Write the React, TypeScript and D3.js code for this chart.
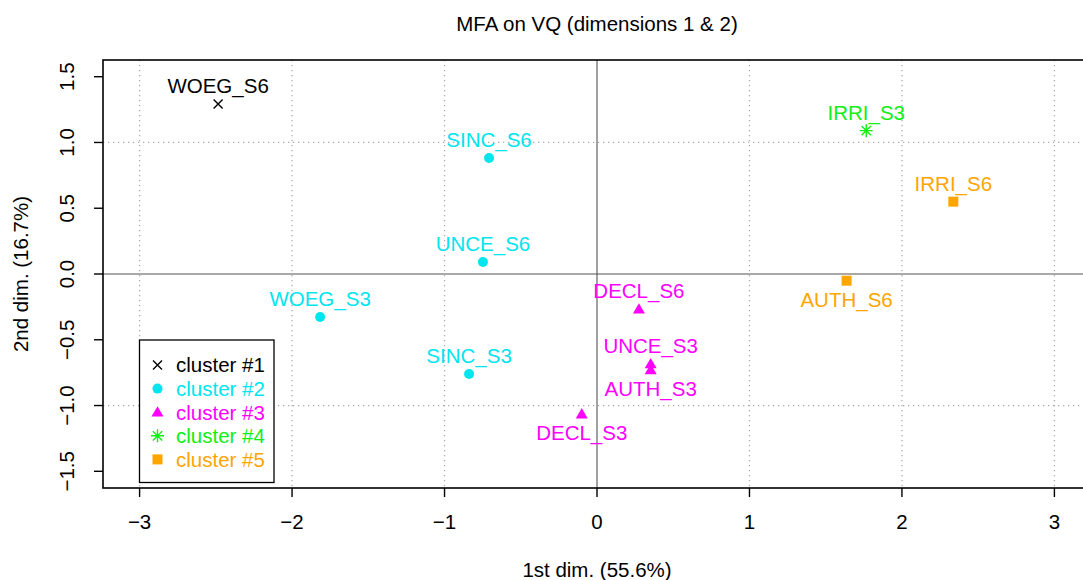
import React from "react";
import * as d3 from "d3";

// individuals on the MFA factor map
const labels = ["WOEG_S6", "SINC_S6", "UNCE_S6", "WOEG_S3", "SINC_S3", "DECL_S6", "UNCE_S3", "AUTH_S3", "DECL_S3", "IRRI_S3", "IRRI_S6", "AUTH_S6"];
const dim1 = [-2.485, -0.708, -0.748, -1.816, -0.839, 0.275, 0.352, 0.352, -0.1, 1.766, 2.337, 1.637];
const dim2 = [1.293, 0.882, 0.091, -0.327, -0.76, -0.268, -0.684, -0.73, -1.065, 1.09, 0.55, -0.051];
const cluster = [1, 2, 2, 2, 2, 3, 3, 3, 3, 4, 5, 5];
const labelAbove = [true, true, true, true, true, true, true, false, false, true, true, false];

const clusterNames = ["cluster #1", "cluster #2", "cluster #3", "cluster #4", "cluster #5"];
const clusterColors = ["#000000", "#00E5EE", "#FF00FF", "#11EE11", "#FFA500"];

const xTicks = [-3, -2, -1, 0, 1, 2, 3];
const yTicks = [-1.5, -1, -0.5, 0, 0.5, 1, 1.5];
const gridX = [-3, -2, -1, 1, 2, 3];
const gridY = [-1, 1];

const W = 1083, H = 580;
const margin = { top: 60, right: -8, bottom: 92, left: 103 };
const FONT = "'Liberation Sans', Arial, Helvetica, sans-serif";
const FS = 20.5;
const fmtY = (v: number) => d3.format(".1f")(v).replace("-", "\u2212");
const fmtX = (v: number) => String(v).replace("-", "\u2212");

const Marker = ({ c, x, y }: { c: number; x: number; y: number }) => {
  const col = clusterColors[c - 1];
  if (c === 1) {
    const s = 4.5;
    return <path d={`M${x - s},${y - s}L${x + s},${y + s}M${x - s},${y + s}L${x + s},${y - s}`} stroke={col} strokeWidth={1.4} />;
  }
  if (c === 2) return <circle cx={x} cy={y} r={5} fill={col} />;
  if (c === 3) {
    const s = 6;
    return <path d={`M${x},${y - s}L${x + s},${y + s * 0.72}L${x - s},${y + s * 0.72}Z`} fill={col} />;
  }
  if (c === 4) {
    const s = 6.5, d = s * 0.72;
    return (
      <path
        d={`M${x - s},${y}L${x + s},${y}M${x},${y - s}L${x},${y + s}M${x - d},${y - d}L${x + d},${y + d}M${x - d},${y + d}L${x + d},${y - d}`}
        stroke={col}
        strokeWidth={1.4}
      />
    );
  }
  return <rect x={x - 5} y={y - 5} width={10} height={10} fill={col} />;
};

export default function App() {
  const x0 = margin.left, x1 = W - margin.right;
  const y0 = margin.top, y1 = H - margin.bottom;
  const x = d3.scaleLinear().domain([-3.24, 3.24]).range([x0, x1]);
  const y = d3.scaleLinear().domain([-1.627, 1.627]).range([y1, y0]);
  const cx = (x0 + x1) / 2;

  return (
    <svg
      width={W}
      height={H}
      style={{ position: "absolute", left: 0, top: 0, background: "#fff" }}
      fontFamily={FONT}
    >
      <defs>
        <clipPath id="plot">
          <rect x={x0} y={y0} width={x1 - x0} height={y1 - y0} />
        </clipPath>
      </defs>
      <text x={cx} y={31} textAnchor="middle" fontSize={FS}>MFA on VQ (dimensions 1 &amp; 2)</text>

      <g clipPath="url(#plot)">
        {gridX.map((v) => (
          <line key={"gx" + v} x1={x(v)} x2={x(v)} y1={y0} y2={y1} stroke="#aaa" strokeWidth={1.3} strokeDasharray="1.3,3.7" />
        ))}
        {gridY.map((v) => (
          <line key={"gy" + v} x1={x0} x2={x1} y1={y(v)} y2={y(v)} stroke="#aaa" strokeWidth={1.3} strokeDasharray="1.3,3.7" />
        ))}
        <line x1={x(0)} x2={x(0)} y1={y0} y2={y1} stroke="#555" strokeWidth={1.1} />
        <line x1={x0} x2={x1} y1={y(0)} y2={y(0)} stroke="#555" strokeWidth={1.1} />

        {labels.map((lab, i) => {
          const px = x(dim1[i]), py = y(dim2[i]);
          const col = clusterColors[cluster[i] - 1];
          return (
            <g key={lab}>
              <Marker c={cluster[i]} x={px} y={py} />
              <text x={px} y={labelAbove[i] ? py - 18.5 : py + 18.5} dy="0.36em" textAnchor="middle" fontSize={FS} fill={col}>
                {lab}
              </text>
            </g>
          );
        })}
      </g>

      <rect x={x0} y={y0} width={x1 - x0} height={y1 - y0} fill="none" stroke="#000" strokeWidth={1.6} />

      {xTicks.map((v) => (
        <g key={"xt" + v}>
          <line x1={x(v)} x2={x(v)} y1={y1} y2={y1 + 9} stroke="#000" strokeWidth={1.4} />
          <text x={x(v)} y={529} textAnchor="middle" fontSize={FS}>{fmtX(v)}</text>
        </g>
      ))}
      {yTicks.map((v) => (
        <g key={"yt" + v}>
          <line x1={x0} x2={x0 - 9} y1={y(v)} y2={y(v)} stroke="#000" strokeWidth={1.4} />
          <text transform={`translate(74,${y(v)}) rotate(-90)`} textAnchor="middle" fontSize={FS}>{fmtY(v)}</text>
        </g>
      ))}

      <text x={cx} y={577} textAnchor="middle" fontSize={FS}>1st dim. (55.6%)</text>
      <text transform={`translate(28,${(y0 + y1) / 2}) rotate(-90)`} textAnchor="middle" fontSize={FS}>2nd dim. (16.7%)</text>

      <g>
        <rect x={139.5} y={340} width={134.5} height={142.5} fill="#fff" stroke="#000" strokeWidth={1.3} />
        {clusterNames.map((name, i) => {
          const ly = 365 + i * 23.6;
          return (
            <g key={name}>
              <Marker c={i + 1} x={157.5} y={ly} />
              <text x={176} y={ly} dy="0.36em" fontSize={FS} fill={clusterColors[i]}>{name}</text>
            </g>
          );
        })}
      </g>
    </svg>
  );
}
